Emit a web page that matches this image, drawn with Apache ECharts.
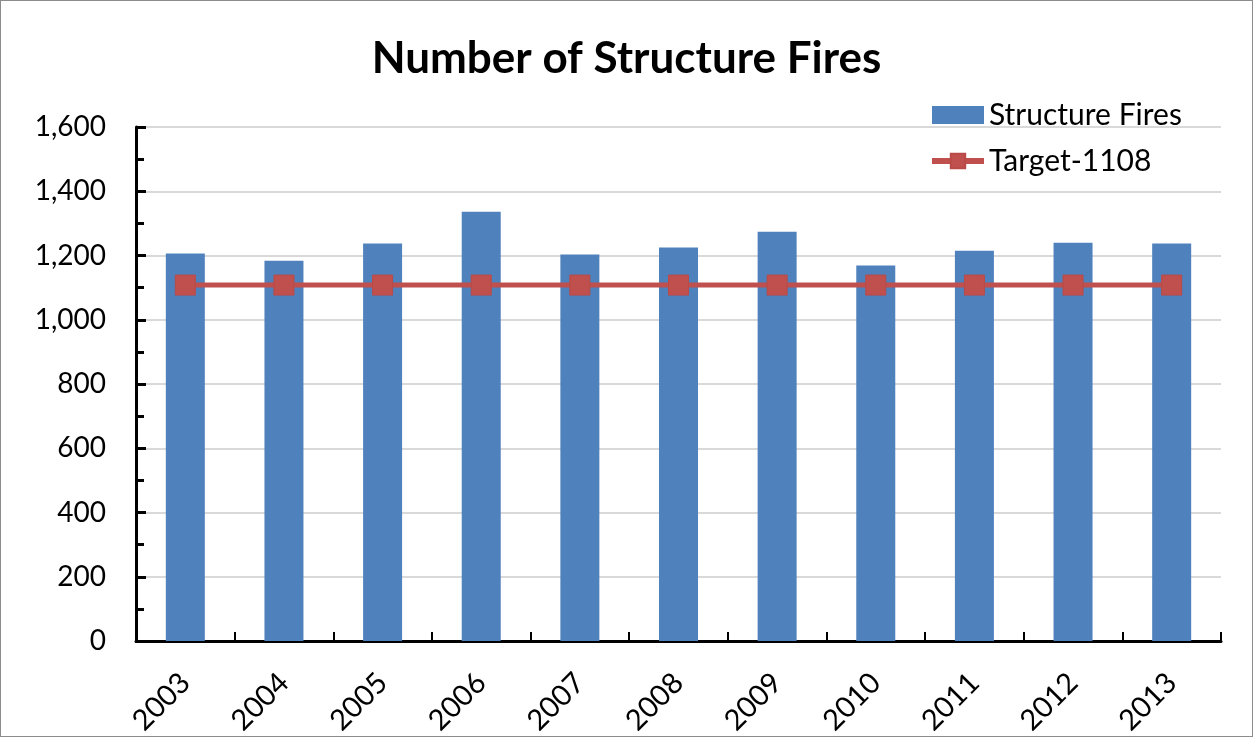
<!DOCTYPE html>
<html><head><meta charset="utf-8">
<script src="https://cdn.jsdelivr.net/npm/echarts@6/dist/echarts.min.js"></script>
<style>html,body{margin:0;padding:0;background:#fff}#c{width:1253px;height:737px;box-sizing:border-box;border:1px solid #8c8c8c}</style>
</head><body><div id="c"></div>
<script>
const categories = ['2003','2004','2005','2006','2007','2008','2009','2010','2011','2012','2013'];
const structureFires = [1206,1184,1237,1336,1203,1225,1274,1169,1215,1240,1237];
const target = [1108,1108,1108,1108,1108,1108,1108,1108,1108,1108,1108];
const FONT = 'Lato, "Open Sans", sans-serif';
const chart = echarts.init(document.getElementById('c'));
chart.setOption({
  animation:false,
  title:{text:'Number of Structure Fires',left:'center',top:31,textStyle:{fontFamily:FONT,fontSize:44,fontWeight:'bold',color:'#000'}},
  legend:{orient:'vertical',left:928,top:99,padding:0,itemWidth:52,itemHeight:18,itemGap:16,
    textStyle:{fontFamily:FONT,fontSize:30,color:'#000'},
    data:[{name:'Structure Fires',icon:'rect'},{name:'Target-1108',lineStyle:{width:6}}]},
  grid:{left:135,right:31,top:126,bottom:95,containLabel:false,outerBoundsMode:'none'},
  xAxis:[{type:'category',data:categories,
    axisLine:{lineStyle:{color:'#000',width:3}},
    axisTick:{show:true,inside:true,length:9,lineStyle:{color:'#000',width:2}},
    axisLabel:{rotate:45,fontFamily:FONT,fontSize:29,color:'#000',margin:37}},
   {type:'category',data:categories,position:'bottom',
    axisLine:{show:false},
    axisTick:{show:true,inside:true,alignWithLabel:true,length:9,lineStyle:{color:'#000',width:2}},
    axisLabel:{show:false}}],
  yAxis:{type:'value',min:0,max:1600,interval:200,
    axisLine:{show:true,lineStyle:{color:'#000',width:3}},
    axisTick:{show:true,inside:true,length:10,lineStyle:{color:'#000',width:3}},
    minorTick:{show:true,splitNumber:2,length:8,lineStyle:{color:'#000',width:3}},
    splitLine:{lineStyle:{color:'#d9d9d9',width:2}},
    axisLabel:{fontFamily:FONT,fontSize:28,color:'#000',margin:30,
      formatter:v=>v.toLocaleString('en-US')}},
  series:[
    {name:'Structure Fires',type:'bar',data:structureFires,barWidth:39,itemStyle:{color:'#4F81BD'}},
    {name:'Target-1108',type:'line',data:target,symbol:'rect',symbolSize:20,
      lineStyle:{color:'#C0504D',width:5},itemStyle:{color:'#C0504D',borderColor:'#B94A47',borderWidth:1}}
  ]
});
</script></body></html>
